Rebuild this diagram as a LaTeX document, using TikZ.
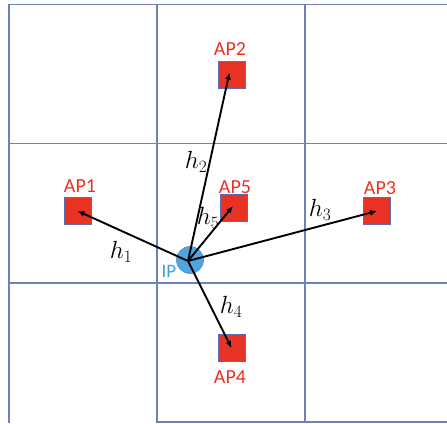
\documentclass[tikz,border=0pt]{standalone}
\usepackage{fontspec}
\setmainfont{Carlito}
\usetikzlibrary{arrows.meta}
\definecolor{gridc}{RGB}{110,130,185}
\definecolor{apred}{RGB}{232,50,35}
\definecolor{apbord}{RGB}{90,110,180}
\definecolor{ipblue}{RGB}{80,165,225}
\definecolor{iptext}{RGB}{60,160,225}
\tikzset{
  gridline/.style={draw=gridc, line width=1.1pt},
  apbox/.style={draw=apbord, line width=0.6pt, fill=apred, minimum size=27pt, inner sep=0pt},
  aplabel/.style={text=apred, font=\fontsize{20}{22}\selectfont, inner sep=0pt},
  ipdot/.style={circle, draw=ipblue!80!black, line width=0.5pt, fill=ipblue, minimum size=27pt, inner sep=0pt},
  conn/.style={line width=1.9pt, -{Latex[length=7pt,width=6pt]}},
  hlabel/.style={font=\fontsize{23}{25}\selectfont, inner sep=0pt}
}
\begin{document}
\begin{tikzpicture}[x=1pt,y=-1pt]
\useasboundingbox (0,0) rectangle (447,423);
% grid
\draw[gridline] (9,423) -- (9,4.5) -- (447,4.5);
\draw[gridline] (157,4.5) -- (157,423);
\draw[gridline] (305,4.5) -- (305,423);
\draw[gridline] (9,143.5) -- (447,143.5);
\draw[gridline] (9,283) -- (447,283);
\draw[gridline] (157,422) -- (447,422);
% APs
\node[apbox] (ap1) at (77.5,211) {};
\node[apbox] (ap2) at (231.5,74.5) {};
\node[apbox] (ap3) at (377,211) {};
\node[apbox] (ap4) at (231.5,348) {};
\node[apbox] (ap5) at (234,208) {};
\node[aplabel] (l1) at (80,186) {AP1};
\node[aplabel] (l2) at (230,49) {AP2};
\node[aplabel] (l3) at (380,188) {AP3};
\node[aplabel] (l4) at (230,377) {AP4};
\node[aplabel] (l5) at (235,187) {AP5};
% IP
\node[ipdot] (ip) at (190,260) {};
\node[text=iptext, font=\fontsize{19}{21}\selectfont, inner sep=0pt] (iplabel) at (169,271) {IP};
\coordinate (o) at (188,261);
% connectors
\draw[conn] (o) -- (ap1.center);
\draw[conn] (o) -- ([xshift=-2pt,yshift=2pt]ap2.center);
\draw[conn] (o) -- (ap3.center);
\draw[conn] (o) -- (ap4.center);
\draw[conn] (o) -- ([xshift=-1pt,yshift=2pt]ap5.center);
% labels
\node[hlabel] (h1) at (121,252) {$h_1$};
\node[hlabel] (h2) at (196,162) {$h_2$};
\node[hlabel] (h3) at (320,210) {$h_3$};
\node[hlabel] (h4) at (231,307) {$h_4$};
\node[hlabel] (h5) at (208,218) {$h_5$};
\end{tikzpicture}
\end{document}
